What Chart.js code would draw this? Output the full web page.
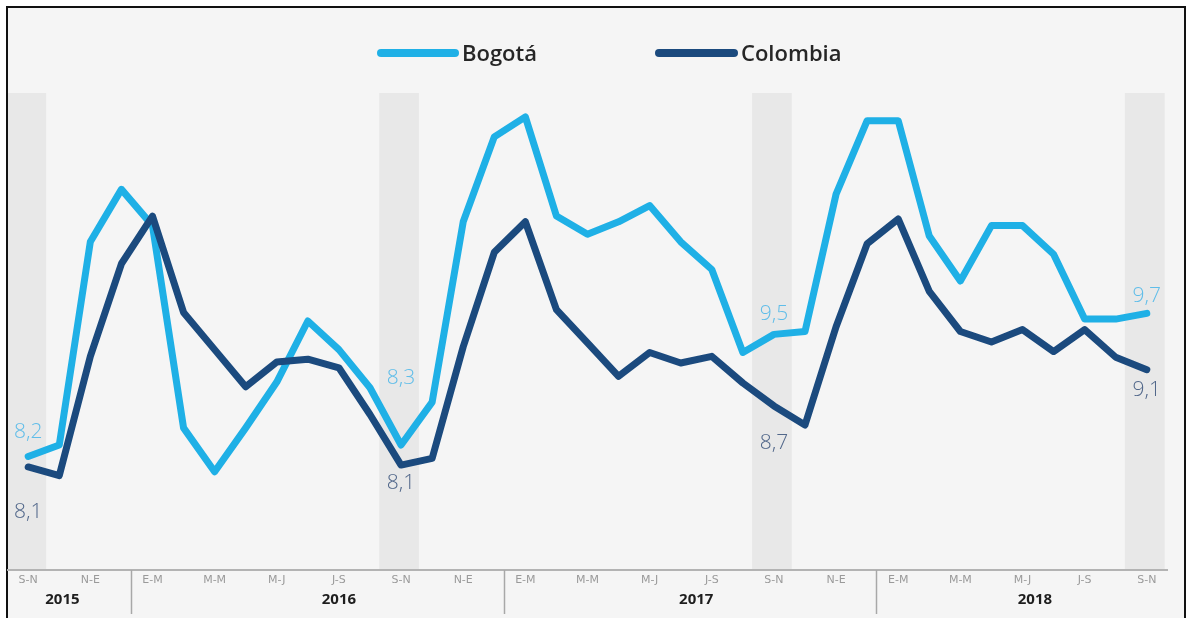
<!DOCTYPE html>
<html>
<head>
  <title>Bogotá - Colombia</title>
  <script src="https://cdn.jsdelivr.net/npm/chart.js"></script>
  <style>
    body {
      margin: 0;
      background-color: #fff;
    }
    canvas {
      display: block;
    }
  </style>
</head>
<body>
  <canvas id="tdChart" width="1187" height="618"></canvas>

  <script>
    // trimestres móviles, sep-nov 2015 a sep-nov 2018
    const periods = [
      'S-N', 'O-D', 'N-E', 'D-F', 'E-M', 'F-A', 'M-M', 'A-J', 'M-J', 'J-A', 'J-S', 'A-O',
      'S-N', 'O-D', 'N-E', 'D-F', 'E-M', 'F-A', 'M-M', 'A-J', 'M-J', 'J-A', 'J-S', 'A-O',
      'S-N', 'O-D', 'N-E', 'D-F', 'E-M', 'F-A', 'M-M', 'A-J', 'M-J', 'J-A', 'J-S', 'A-O',
      'S-N'
    ];
    const years = ['2015', '2016', '2017', '2018'];

    const bogota = [
      8.19, 8.31, 10.44, 10.99, 10.61, 8.49, 8.03, 8.49, 8.97, 9.61, 9.31, 8.91,
      8.31, 8.76, 10.65, 11.54, 11.75, 10.71, 10.52, 10.65, 10.82, 10.44, 10.15, 9.28,
      9.47, 9.50, 10.94, 11.71, 11.71, 10.50, 10.03, 10.61, 10.61, 10.31, 9.63, 9.63,
      9.69
    ];
    const colombia = [
      8.08, 7.99, 9.24, 10.21, 10.71, 9.70, 9.31, 8.92, 9.18, 9.21, 9.12, 8.63,
      8.10, 8.17, 9.34, 10.33, 10.65, 9.73, 9.38, 9.03, 9.28, 9.17, 9.24, 8.96,
      8.72, 8.52, 9.55, 10.42, 10.68, 9.92, 9.50, 9.39, 9.52, 9.29, 9.52, 9.23,
      9.10
    ];

    // puntos con etiqueta (los S-N de cada año)
    const labelled = [0, 12, 24, 36];

    const BOG_COLOR = '#1fb0e6';
    const COL_COLOR = '#1b4a7e';

    const bogDy = [-24, -67, -20, -17];
    const colDy = [45, 18, 37, 20];
    const yearBreaks = [3.3, 15.3, 27.3];
    const yearCenters = [1.1, 10.0, 21.5, 32.4];

    const toPoints = arr => arr.map((v, i) => ({ x: i, y: v }));

    const framePlugin = {
      id: 'frame',
      beforeDraw(chart) {
        const ctx = chart.ctx;
        const x = chart.scales.x;
        const area = chart.chartArea;
        ctx.save();
        ctx.fillStyle = '#ffffff';
        ctx.fillRect(0, 0, chart.width, chart.height);
        ctx.fillStyle = '#f5f5f5';
        ctx.fillRect(7, 7, 1178, chart.height - 7);
        ctx.fillStyle = '#111';
        ctx.fillRect(6, 6, 1180, 2);
        ctx.fillRect(6, 6, 2, chart.height);
        ctx.fillRect(1184, 6, 2, chart.height);

        // franjas grises S-N
        ctx.fillStyle = '#e8e8e8';
        labelled.forEach(i => {
          const x0 = Math.max(x.getPixelForValue(i - 0.64) - 2, 8);
          const x1 = x.getPixelForValue(i + 0.64) - 2;
          ctx.fillRect(x0, area.top, x1 - x0, area.bottom - area.top - 1);
        });

        // leyenda
        ctx.lineCap = 'round';
        ctx.lineWidth = 8;
        ctx.strokeStyle = BOG_COLOR;
        ctx.beginPath(); ctx.moveTo(381, 53); ctx.lineTo(455, 53); ctx.stroke();
        ctx.strokeStyle = COL_COLOR;
        ctx.beginPath(); ctx.moveTo(659, 53); ctx.lineTo(734, 53); ctx.stroke();
        ctx.fillStyle = '#262626';
        ctx.font = '600 22px "Open Sans"';
        ctx.textAlign = 'left';
        ctx.textBaseline = 'alphabetic';
        ctx.fillText('Bogotá', 462, 61);
        ctx.fillText('Colombia', 741, 61);
        ctx.restore();
      },
      afterDraw(chart) {
        const ctx = chart.ctx;
        const x = chart.scales.x;
        const bottom = chart.chartArea.bottom;
        ctx.save();
        ctx.strokeStyle = '#a8a8a8';
        ctx.lineWidth = 1.5;
        yearBreaks.forEach(b => {
          const px = Math.round(x.getPixelForValue(b)) + 0.5;
          ctx.beginPath(); ctx.moveTo(px, bottom); ctx.lineTo(px, 614); ctx.stroke();
        });
        ctx.fillStyle = '#1e1e1e';
        ctx.font = 'bold 15px "Open Sans"';
        ctx.textAlign = 'center';
        ctx.textBaseline = 'middle';
        years.forEach((y, i) => {
          ctx.fillText(y, x.getPixelForValue(yearCenters[i]), 600);
        });
        ctx.restore();
      }
    };

    const valueLabels = {
      id: 'valueLabels',
      afterDatasetsDraw(chart) {
        const ctx = chart.ctx;
        ctx.save();
        ctx.font = '300 21px "Open Sans"';
        ctx.textAlign = 'center';
        ctx.textBaseline = 'middle';
        chart.data.datasets.forEach((ds, d) => {
          const meta = chart.getDatasetMeta(d);
          const dy = d === 0 ? bogDy : colDy;
          ctx.fillStyle = d === 0 ? '#5fbde9' : '#51678a';
          labelled.forEach((idx, k) => {
            const pt = meta.data[idx];
            const txt = ds.data[idx].y.toFixed(1).replace('.', ',');
            ctx.fillText(txt, pt.x, pt.y + dy[k]);
          });
        });
        ctx.restore();
      }
    };

    const ctx = document.getElementById('tdChart').getContext('2d');
    new Chart(ctx, {
      type: 'line',
      data: {
        datasets: [
          {
            label: 'Bogotá',
            data: toPoints(bogota),
            borderColor: BOG_COLOR,
            borderWidth: 7,
            order: 1
          },
          {
            label: 'Colombia',
            data: toPoints(colombia),
            borderColor: COL_COLOR,
            borderWidth: 7,
            order: 0
          }
        ]
      },
      options: {
        responsive: false,
        devicePixelRatio: 1,
        animation: false,
        layout: { padding: { left: 8, right: 20, top: 93, bottom: 0 } },
        elements: {
          point: { radius: 0 },
          line: { tension: 0, borderCapStyle: 'round', borderJoinStyle: 'round', fill: false }
        },
        scales: {
          x: {
            type: 'linear',
            min: -0.65,
            max: 36.65,
            afterBuildTicks: scale => {
              scale.ticks = periods.map((_, i) => i).filter(i => i % 2 === 0).map(v => ({ value: v }));
            },
            afterFit: scale => { scale.height = 48; },
            ticks: {
              autoSkip: false,
              maxRotation: 0,
              padding: 4,
              color: '#9a9a9a',
              font: { family: 'DejaVu Sans', size: 11 },
              callback: value => periods[value]
            },
            grid: { display: false, drawTicks: false },
            border: { color: '#b3b3b3', width: 2 }
          },
          y: {
            display: false,
            min: 7,
            max: 12
          }
        },
        plugins: {
          legend: { display: false },
          tooltip: { enabled: false }
        }
      },
      plugins: [framePlugin, valueLabels]
    });
  </script>
</body>
</html>
